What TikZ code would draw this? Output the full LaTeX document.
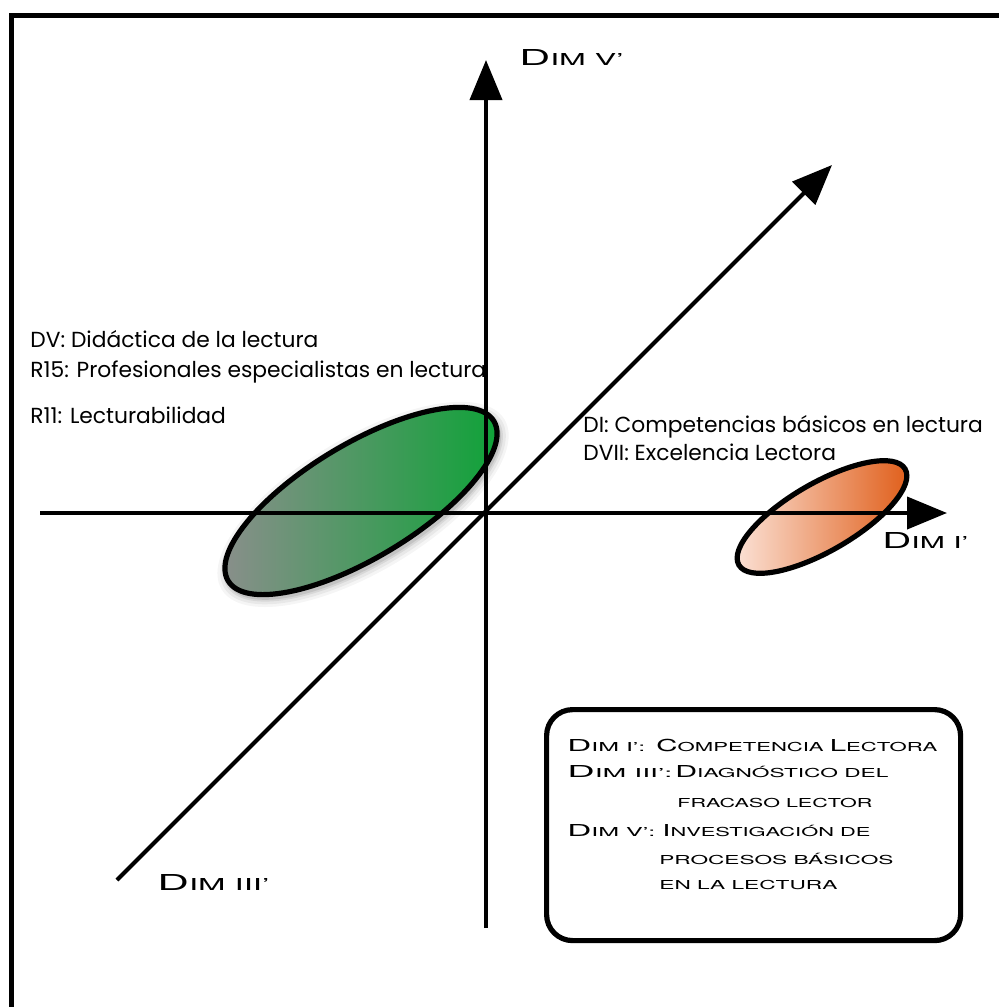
\documentclass[tikz,border=0pt]{standalone}
\usepackage{fontspec}
\usepackage{graphicx}
\setmainfont{Poppins}
\newfontfamily\capfont{TeX Gyre Heros}
\usetikzlibrary{arrows.meta}
\definecolor{grn}{HTML}{0AA335}
\definecolor{gry}{HTML}{8E8E8E}
\definecolor{org}{HTML}{DF5A14}
\definecolor{orgl}{HTML}{FCE6DC}
\newcommand\Bc[1]{{\fontsize{8}{9}\selectfont #1}}
\newcommand\capline[3]{\resizebox{#1}{#2}{\capfont\fontsize{6}{7}\selectfont\vphantom{E}\smash{#3}}}
\begin{document}
\begin{tikzpicture}[x=0.5pt,y=-0.5pt,
  axis/.style={line width=2pt,-{Triangle[length=20pt,width=16pt]}},
  lbl/.style={anchor=base west,inner sep=0pt,font=\fontsize{10.9}{13}\selectfont},
  captext/.style={anchor=base west,inner sep=0pt},
  blob/.style={line width=2.6pt,draw=black}]
\useasboundingbox (0,0) rectangle (999,1007);
\fill[white] (0,0) rectangle (999,1007);
% frame
\draw[line width=2.5pt] (11,1012) -- (11,15) -- (1012,15);
% coordinates
\coordinate (O) at (486,513);
\coordinate (vtop) at (486,60);
\coordinate (vbot) at (486,928);
\coordinate (hl) at (40,513);
\coordinate (hr) at (947,513);
\coordinate (dl) at (117,880);
\coordinate (dr) at (832,165);
% green ellipse with soft shadow
\foreach \r/\o in {10/0.04,7/0.05,4/0.07,2/0.09}
  \fill[black,opacity=\o,rotate around={31:(361,501)}] (361,505) ellipse [x radius=155+\r, y radius=57+\r];
\shade[rotate around={31:(361,501)},left color=gry,right color=grn] (361,501) ellipse [x radius=155, y radius=57];
\draw[blob,rotate around={31:(361,501)}] (361,501) ellipse [x radius=155, y radius=57];
% orange ellipse
\shade[rotate around={30:(822,517)},left color=orgl,right color=org] (822,517) ellipse [x radius=96, y radius=34];
\draw[blob,rotate around={30:(822,517)}] (822,517) ellipse [x radius=96, y radius=34];
% axes
\draw[axis] (vbot) -- (vtop);
\draw[axis] (hl) -- (hr);
\draw[axis] (dl) -- (dr);
% axis labels
\node[captext] (lv) at (519,65) {\capline{52pt}{6pt}{\Bc{D}IM V’}};
\node[captext] (li) at (882,548) {\capline{43pt}{6pt}{\Bc{D}IM I’}};
\node[captext] (liii) at (157,890) {\capline{56pt}{6pt}{\Bc{D}IM III’}};
% labels
\node[lbl] (dv) at (30,347) {DV: Didáctica de la lectura};
\node[lbl] (r15) at (30,377) {R15: Profesionales especialistas en lectura};
\node[lbl] (r11) at (30,423) {R11: Lecturabilidad};
\node[lbl] (di) at (583,432) {DI: Competencias básicos en lectura};
\node[lbl] (dvii) at (583,460) {DVII: Excelencia Lectora};
% legend box
\node[draw,line width=2.6pt,rounded corners=13pt,minimum width=207pt,minimum height=115.5pt,inner sep=0pt,anchor=north west] (legend) at (544,707) {};
\node[captext] (k1a) at (567,751) {\capline{39pt}{4.5pt}{\Bc{D}IM I’:}};
\node[captext] (k1b) at (656,751) {\capline{140.5pt}{4.5pt}{\Bc{C}OMPETENCIA \Bc{L}ECTORA}};
\node[captext] (k2a) at (567,777) {\capline{52.5pt}{4.5pt}{\Bc{D}IM III’:}};
\node[captext] (k2b) at (675,777) {\capline{106.5pt}{4.5pt}{\Bc{D}IAGNÓSTICO DEL}};
\node[captext] (k3) at (677,807) {\capline{97.5pt}{4.5pt}{FRACASO LECTOR}};
\node[captext] (k4a) at (567,836) {\capline{44pt}{4.5pt}{\Bc{D}IM V’:}};
\node[captext] (k4b) at (662,836) {\capline{104pt}{4.5pt}{\Bc{I}NVESTIGACIÓN DE}};
\node[captext] (k5) at (659,864) {\capline{117pt}{4.5pt}{PROCESOS BÁSICOS}};
\node[captext] (k6) at (659,889) {\capline{89pt}{4.5pt}{EN LA LECTURA}};
\end{tikzpicture}
\end{document}
